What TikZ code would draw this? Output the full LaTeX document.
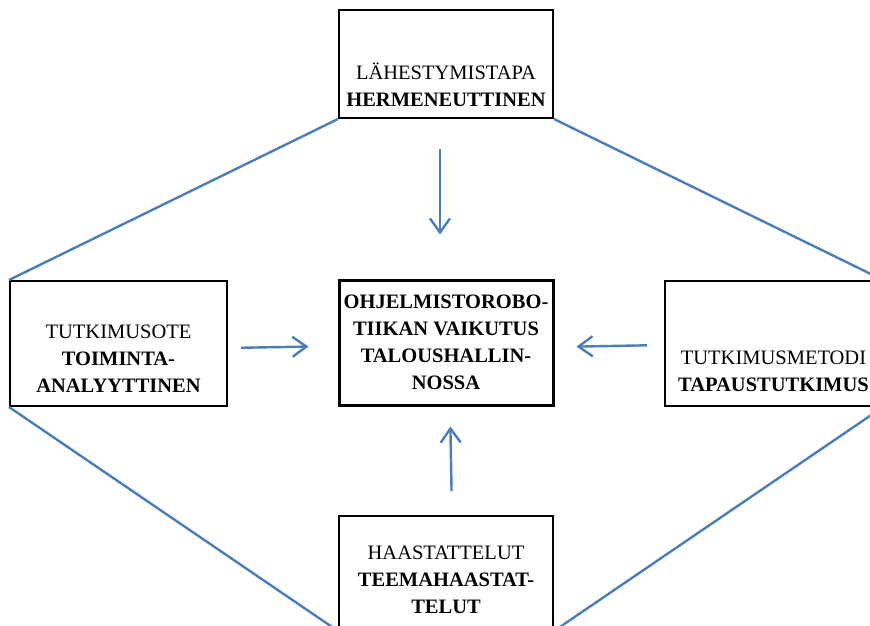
\documentclass[tikz,border=0pt]{standalone}
\usepackage{fontspec}
\setmainfont{Liberation Serif}
\usepackage{tikz}
\usetikzlibrary{arrows.meta, positioning}
\definecolor{linkblue}{RGB}{74,126,187}

\begin{document}
\begin{tikzpicture}[x=1pt, y=-1pt,
  every node/.style={align=center, font=\fontsize{20.5}{27}\selectfont},
  frame/.style={draw, line width=2pt, inner sep=0pt},
  caption/.style={inner sep=0pt},
  link/.style={linkblue, line width=2.4pt},
  flow/.style={linkblue, line width=2.4pt, -{Straight Barb[length=14pt, width=20pt]}}]
  \useasboundingbox (0,0) rectangle (870,625);

  % centre box
  \node[frame, line width=3pt, minimum width=214pt, minimum height=125pt]
    (effect) at (446,342.5) {\textbf{OHJELMISTOROBO-}\\\textbf{TIIKAN VAIKUTUS}\\\textbf{TALOUSHALLIN-}\\\textbf{NOSSA}};

  % surrounding boxes
  \node[frame, minimum width=214pt, minimum height=108pt]
    (approach) at (446,64) {};
  \node[frame, minimum width=217pt, minimum height=125pt]
    (stance) at (118.5,343.5) {};
  \node[frame, minimum width=217pt, minimum height=125pt]
    (casestudy) at (773.5,343.5) {};
  \node[frame, minimum width=214pt, minimum height=114pt]
    (interviews) at (446,573) {};

  \node[caption, above=12pt of approach.south]
    (approachtext) {LÄHESTYMISTAPA\\\textbf{HERMENEUTTINEN}};
  \node[caption, above=14pt of stance.south]
    (stancetext) {TUTKIMUSOTE\\\textbf{TOIMINTA-}\\\textbf{ANALYYTTINEN}};
  \node[caption, above=15pt of casestudy.south]
    (casestudytext) {TUTKIMUSMETODI\\\textbf{TAPAUSTUTKIMUS}};
  \node[caption, above=17pt of interviews.south]
    (interviewstext) {HAASTATTELUT\\\textbf{TEEMAHAASTAT-}\\\textbf{TELUT}};

  % diamond
  \draw[link] (approach.south west) -- (stance.north west);
  \draw[link] (approach.south east) -- (casestudy.north east);
  \draw[link] (stance.south west) -- (interviews.south west);
  \draw[link] (casestudy.south east) -- (interviews.south east);

  % arrows into the centre
  \draw[flow, shorten <=30pt, shorten >=44pt] ([xshift=-6pt]approach.south) -- ([xshift=-6pt]effect.north);
  \draw[flow, shorten <=13pt, shorten >=29pt] ([yshift=-4.5pt]stance.east) -- ([yshift=-3.5pt]effect.west);
  \draw[flow, shorten <=17pt, shorten >=22pt] ([yshift=-1.5pt]casestudy.west) -- ([yshift=-4.5pt]effect.east);
  \draw[flow, shorten <=24pt, shorten >=20pt] ([xshift=6pt]interviews.north) -- ([xshift=4pt]effect.south);
\end{tikzpicture}
\end{document}
